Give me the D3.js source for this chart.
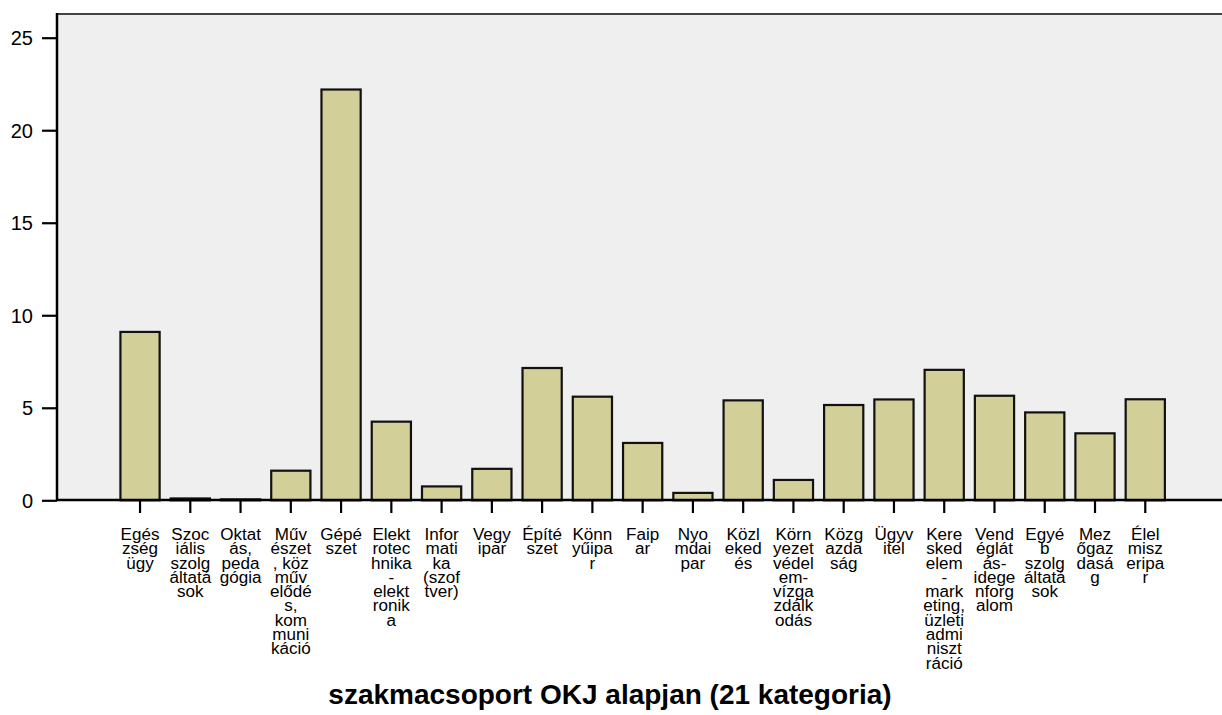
<!DOCTYPE html>
<html><head><meta charset="utf-8">
<script src="https://cdn.jsdelivr.net/npm/d3@7"></script>
<style>body{margin:0;background:#fff}svg{display:block}text{font-family:"Liberation Sans",Arial,Helvetica,sans-serif;fill:#000}</style>
</head><body>
<svg id="c" width="1222" height="715"></svg>
<script>
const categories = ["Egészségügy","Szociális szolgáltatások","Oktatás, pedagógia","Művészet, közművelődés, kommunikáció","Gépészet","Elektrotechnika - elektronika","Informatika (szoftver)","Vegyipar","Építészet","Könnyűipar","Faipar","Nyomdaipar","Közlekedés","Környezetvédelem-vízgazdálkodás","Közgazdaság","Ügyvitel","Kereskedelem - marketing, üzleti adminisztráció","Vendéglátás-idegenforgalom","Egyéb szolgáltatások","Mezőgazdaság","Élelmiszeripar"];
const labelLines = [
 ["Egés","zség","ügy"],
 ["Szoc","iális","szolg","áltatá","sok"],
 ["Oktat","ás,","peda","gógia"],
 ["Műv","észet",", köz","műv","elődé","s,","kom","muni","káció"],
 ["Gépé","szet"],
 ["Elekt","rotec","hnika","-","elekt","ronik","a"],
 ["Infor","mati","ka","(szof","tver)"],
 ["Vegy","ipar"],
 ["Építé","szet"],
 ["Könn","yűipa","r"],
 ["Faip","ar"],
 ["Nyo","mdai","par"],
 ["Közl","eked","és"],
 ["Körn","yezet","védel","em-","vízga","zdálk","odás"],
 ["Közg","azda","ság"],
 ["Ügyv","itel"],
 ["Kere","sked","elem","-","mark","eting,","üzleti","admi","niszt","ráció"],
 ["Vend","églát","ás-","idege","nforg","alom"],
 ["Egyé","b","szolg","áltatá","sok"],
 ["Mez","őgaz","dasá","g"],
 ["Élel","misz","eripa","r"]
];
const values = [9.1,0.1,0.05,1.6,22.2,4.25,0.75,1.7,7.15,5.6,3.1,0.4,5.4,1.1,5.15,5.45,7.05,5.65,4.75,3.62,5.46];
const yTicks = [0,5,10,15,20,25];
const xTitle = "szakmacsoport OKJ alapjan (21 kategoria)";

const svg = d3.select("#c");
const pLeft = 57, pTop = 14, pRight = 1222, pBase = 500;
const y = d3.scaleLinear().domain([0,25]).range([500.3,37.7]);
const x = d3.scaleBand().domain(categories).range([114.9,1170.4]).paddingInner(0.22).paddingOuter(0.11);

// plot background
svg.append("rect").attr("x",pLeft).attr("y",pTop).attr("width",pRight-pLeft).attr("height",pBase-pTop).attr("fill","#efefef");
svg.append("line").attr("x1",pLeft).attr("x2",pRight).attr("y1",pTop).attr("y2",pTop).attr("stroke","#444").attr("stroke-width",2);

// bars
svg.append("g").selectAll("rect").data(values).join("rect")
  .attr("x",(d,i)=>x(categories[i]))
  .attr("width",x.bandwidth())
  .attr("y",d=>y(d))
  .attr("height",d=>y(0)-y(d))
  .attr("fill","#d3cf98").attr("stroke","#111").attr("stroke-width",2.2);

// y axis
const yAxis = d3.axisLeft(y).tickValues(yTicks).tickSize(15).tickPadding(9).tickFormat(d3.format("d"));
const gy = svg.append("g").attr("transform",`translate(${pLeft},0)`).call(yAxis);
gy.select(".domain").remove();
gy.selectAll(".tick line").attr("stroke","#000").attr("stroke-width",2.2);
gy.selectAll(".tick text").attr("font-size",20).attr("font-family",null).attr("fill","#000").attr("dy","0.35em");
svg.append("line").attr("x1",pLeft).attr("x2",pLeft).attr("y1",pTop-1).attr("y2",pBase+1).attr("stroke","#000").attr("stroke-width",2.5);

// x axis
const xAxis = d3.axisBottom(x).tickSize(13).tickFormat("");
const gx = svg.append("g").attr("transform",`translate(0,${pBase})`).call(xAxis);
gx.select(".domain").remove();
gx.selectAll(".tick line").attr("stroke","#000").attr("stroke-width",2.2);
svg.append("line").attr("x1",pLeft).attr("x2",pRight).attr("y1",pBase).attr("y2",pBase).attr("stroke","#000").attr("stroke-width",2.5);

// category labels
const lab = svg.append("g").selectAll("g").data(categories).join("g")
  .attr("transform",(d)=>`translate(${x(d)+x.bandwidth()/2},540) scale(1.08,1)`);
lab.each(function(d,i){
  const t = d3.select(this).append("text").attr("text-anchor","middle").attr("font-size",15.8);
  labelLines[i].forEach((ln,j)=>t.append("tspan").attr("x",0).attr("y",j*14.3).text(ln));
});

// title
svg.append("text").attr("x",610).attr("y",704).attr("text-anchor","middle")
  .attr("font-size",28).attr("font-weight","bold").text(xTitle);
</script>
</body></html>
